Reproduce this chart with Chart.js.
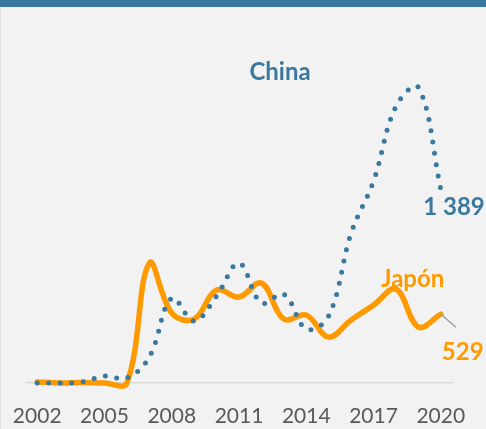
<!DOCTYPE html>
<html>
<head>
<meta charset="utf-8">
<title>China y Japón</title>
<script src="https://cdn.jsdelivr.net/npm/chart.js@4.4.1/dist/chart.umd.min.js"></script>
<style>
    html, body {
        margin: 0;
        padding: 0;
        background: #f2f2f2;
    }
    #wrap {
        position: relative;
        width: 486px;
        height: 429px;
        background: #f2f2f2;
        overflow: hidden;
    }
    #band {
        position: absolute;
        left: 0;
        top: 0;
        width: 486px;
        height: 7px;
        background: #3a799f;
    }
    #edge {
        position: absolute;
        left: 0;
        top: 7px;
        width: 1px;
        height: 422px;
        background: #e2e2e2;
    }
    canvas {
        position: absolute;
        left: 0;
        top: 0;
    }
</style>
</head>
<body>
<div id="wrap">
    <canvas id="fdiChart" width="486" height="429"></canvas>
    <div id="band"></div>
    <div id="edge"></div>
</div>
<script>
// Years on the x axis, one point per year
const years = ["2002", "2003", "2004", "2005", "2006", "2007", "2008", "2009", "2010", "2011",
    "2012", "2013", "2014", "2015", "2016", "2017", "2018", "2019", "2020"];

// Values
const chinaValues = [0, 0, 7, 50, 36, 186, 608, 444, 623, 859, 573, 637, 387, 480, 1074, 1446, 1983, 2119, 1389];
const japanValues = [8, 0, 3, 0, 0, 859, 501, 458, 666, 616, 716, 458, 487, 329, 451, 558, 673, 401, 494];

// Only these years get a label under the axis
const shownYears = ["2002", "2005", "2008", "2011", "2014", "2017", "2020"];

const blue = "#3a789f";
const orange = "#ff9900";

// Series names and end values written next to the lines
const endLabels = {
    id: "endLabels",
    afterDatasetsDraw(chart) {
        const c = chart.ctx;
        const area = chart.chartArea;
        const chinaEnd = chart.getDatasetMeta(0).data[years.length - 1];
        const japanEnd = chart.getDatasetMeta(1).data[years.length - 1];

        c.save();
        c.font = "bold 24px Lato";
        c.textBaseline = "alphabetic";

        // China
        c.fillStyle = blue;
        c.textAlign = "center";
        c.fillText("China", (area.left + area.right) / 2 + 41, area.top + 4);
        c.textAlign = "right";
        c.fillText("1 389", chinaEnd.x + 44, chinaEnd.y + 26);

        // Japón, with a short leader line to its value
        c.fillStyle = orange;
        c.textAlign = "center";
        c.fillText("Japón", japanEnd.x - 28, japanEnd.y - 27);
        c.strokeStyle = "#a6a6a6";
        c.lineWidth = 1.5;
        c.beginPath();
        c.moveTo(japanEnd.x, japanEnd.y);
        c.lineTo(japanEnd.x + 15, japanEnd.y + 13);
        c.stroke();
        c.textAlign = "left";
        c.fillText("529", japanEnd.x + 1, japanEnd.y + 46);
        c.restore();
    }
};

const ctx = document.getElementById("fdiChart").getContext("2d");
const fdiChart = new Chart(ctx, {
    type: "line",
    data: {
        labels: years,
        datasets: [
            {
                label: "China",
                data: chinaValues,
                borderColor: blue,
                borderWidth: 5,
                borderDash: [0, 11.5],
                borderCapStyle: "round",
                pointRadius: 0,
                tension: 0.38,
                clip: false,
            },
            {
                label: "Japón",
                data: japanValues,
                borderColor: orange,
                borderWidth: 5.5,
                borderCapStyle: "round",
                borderJoinStyle: "round",
                pointRadius: 0,
                tension: 0.38,
                clip: false,
            },
        ],
    },
    options: {
        responsive: false,
        animation: false,
        layout: {
            padding: { left: 26, right: 34, top: 76, bottom: 0 },
        },
        elements: {
            line: { capBezierPoints: false },
        },
        plugins: {
            legend: { display: false },
            tooltip: { enabled: false },
        },
        scales: {
            x: {
                offset: true,
                grid: { display: false, drawTicks: false },
                border: { display: true, color: "#d9d9d9", width: 1.5 },
                ticks: {
                    autoSkip: false,
                    maxRotation: 0,
                    padding: 21,
                    color: "#595959",
                    font: { family: "Lato", size: 21 },
                    callback: function (value) {
                        const year = years[value];
                        return shownYears.includes(year) ? year : "";
                    },
                },
                // keep the axis band a fixed height and let the layout padding set the sides
                afterFit: function (scale) {
                    scale.height = 46;
                    scale.paddingLeft = 0;
                    scale.paddingRight = 0;
                },
            },
            y: {
                display: false,
                min: 0,
                max: 2200,
            },
        },
    },
    plugins: [endLabels],
});
</script>
</body>
</html>
